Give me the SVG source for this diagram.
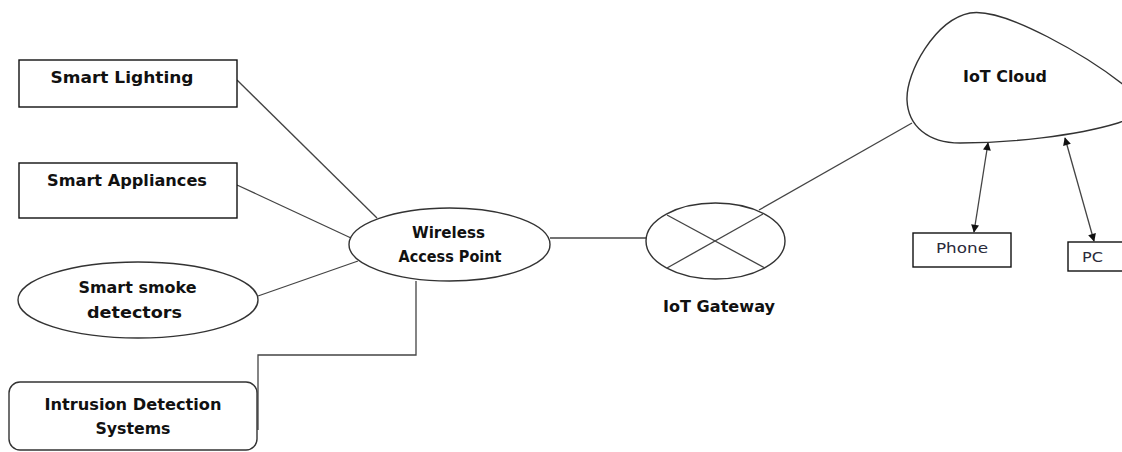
<svg xmlns="http://www.w3.org/2000/svg" width="1122" height="452" viewBox="0 0 1122 452">
<style>
.box{fill:#fff;stroke:#111;stroke-width:1.4}
.shape{fill:#fff;stroke:#333;stroke-width:1.4}
.ln{fill:none;stroke:#444;stroke-width:1.3}
.lbl{font-family:"DejaVu Sans",sans-serif;font-weight:bold;font-size:15px;fill:#111;text-anchor:middle}
.sm{font-family:"DejaVu Sans",sans-serif;font-size:14px;fill:#2a2a3a;text-anchor:middle}
</style>
<defs>
<marker id="ah" viewBox="0 0 10 10" refX="9" refY="5" markerWidth="9" markerHeight="8" markerUnits="userSpaceOnUse" orient="auto-start-reverse">
<path d="M0,0 L10,5 L0,10 Z" fill="#111"/>
</marker>
</defs>
<rect width="1122" height="452" fill="#fff"/>
<g id="connectors">
<line class="ln" x1="237" y1="80" x2="377" y2="218"/>
<line class="ln" x1="237" y1="185" x2="351" y2="238"/>
<line class="ln" x1="258" y1="296" x2="358" y2="261"/>
<polyline class="ln" points="416,281 416,355 258,355 258,430"/>
<line class="ln" x1="550" y1="238" x2="646" y2="238"/>
<line class="ln" x1="759" y1="210" x2="912" y2="123"/>
<line class="ln" x1="988" y1="143" x2="974" y2="232" marker-start="url(#ah)" marker-end="url(#ah)"/>
<line class="ln" x1="1065" y1="138" x2="1094" y2="241" marker-start="url(#ah)" marker-end="url(#ah)"/>
</g>
<g id="smart-lighting">
<rect class="box" x="19" y="60" width="218" height="47"/>
<text class="lbl" x="122" y="83" textLength="143" lengthAdjust="spacingAndGlyphs">Smart Lighting</text>
</g>
<g id="smart-appliances">
<rect class="box" x="19" y="163" width="218" height="55"/>
<text class="lbl" x="127" y="186" textLength="160" lengthAdjust="spacingAndGlyphs">Smart Appliances</text>
</g>
<g id="smart-smoke-detectors">
<ellipse class="shape" cx="138" cy="300" rx="120" ry="38"/>
<text class="lbl" x="137.5" y="293" textLength="118" lengthAdjust="spacingAndGlyphs">Smart smoke</text>
<text class="lbl" x="134.5" y="318" textLength="95" lengthAdjust="spacingAndGlyphs">detectors</text>
</g>
<g id="intrusion-detection">
<rect class="shape" x="9" y="382" width="248" height="68" rx="11"/>
<text class="lbl" x="133" y="410" textLength="177" lengthAdjust="spacingAndGlyphs">Intrusion Detection</text>
<text class="lbl" x="133" y="434" textLength="75" lengthAdjust="spacingAndGlyphs">Systems</text>
</g>
<g id="wireless-access-point">
<ellipse class="shape" cx="449.5" cy="244.5" rx="100.5" ry="36.5"/>
<text class="lbl" x="448.5" y="238" textLength="73" lengthAdjust="spacingAndGlyphs">Wireless</text>
<text class="lbl" x="450" y="262" textLength="103" lengthAdjust="spacingAndGlyphs">Access Point</text>
</g>
<g id="iot-gateway">
<ellipse class="shape" cx="715.5" cy="241" rx="69.5" ry="38"/>
<line class="ln" x1="667" y1="215" x2="765" y2="268"/>
<line class="ln" x1="667" y1="268" x2="763" y2="214"/>
<text class="lbl" x="719" y="312" textLength="112" lengthAdjust="spacingAndGlyphs">IoT Gateway</text>
</g>
<g id="iot-cloud">
<path class="shape" d="M907,100 C906,72 935,20 970,13 C1005,7 1090,58 1125,86 C1138,100 1135,118 1118,123 C1075,136 1010,143 960,143 C928,143 908,126 907,100 Z"/>
<text class="lbl" x="1005" y="82" textLength="84" lengthAdjust="spacingAndGlyphs">IoT Cloud</text>
</g>
<g id="phone">
<rect class="box" x="913" y="233" width="98" height="34"/>
<text class="sm" x="962" y="253" textLength="52" lengthAdjust="spacingAndGlyphs">Phone</text>
</g>
<g id="pc">
<rect class="box" x="1068" y="242" width="60" height="29"/>
<text class="sm" x="1092.5" y="262" textLength="21" lengthAdjust="spacingAndGlyphs">PC</text>
</g>
</svg>
